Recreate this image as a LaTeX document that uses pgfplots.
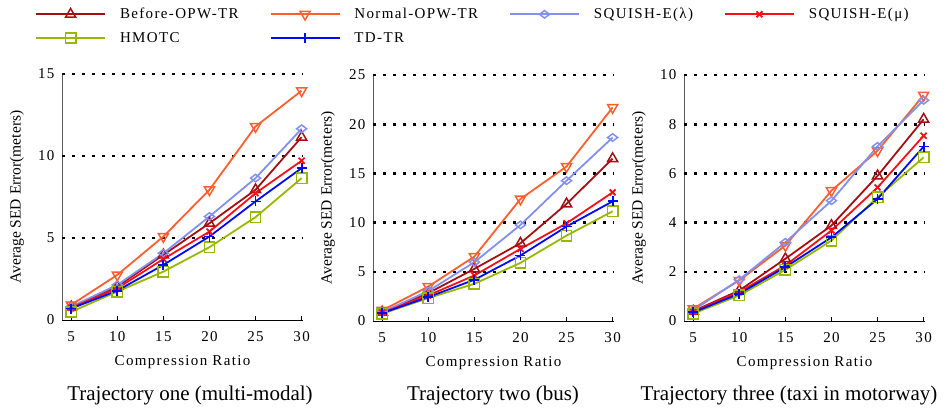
\documentclass[border=0pt]{standalone}
\usepackage{fontspec}
\setmainfont{Liberation Serif}
\newfontfamily\lsfont[LetterSpace=9]{Liberation Serif}
\usepackage{pgfplots}
\pgfplotsset{compat=1.18}

\definecolor{cBefore}{RGB}{165,15,20}
\definecolor{cNormal}{RGB}{255,95,45}
\definecolor{cSqL}{RGB}{130,145,240}
\definecolor{cSqM}{RGB}{250,15,20}
\definecolor{cHM}{RGB}{150,185,0}
\definecolor{cTD}{RGB}{0,10,250}

\pgfplotsset{
  panel/.style={
    scale only axis, width=241pt, height=246pt,
    xmin=4, xmax=30.15, xtick={5,10,15,20,25,30},
    axis x line*=bottom, axis y line*=left,
    axis line style={-, line width=0.8pt},
    x axis line style={black},
    y axis line style={black!65},
    tick align=inside, major tick length=4pt,
    xtick style={black, line width=0.7pt},
    ytick style={draw=none},
    /pgf/number format/assume math mode=true,
    ticklabel style={font=\lsfont\fontsize{15}{18}\selectfont},
    xticklabel style={yshift=-8pt},
    yticklabel style={xshift=-4pt},
    every axis y label/.style={at={(axis description cs:-0.187,0.5)}, rotate=90, anchor=center, font=\fontsize{15.5}{18}\selectfont},
    every axis x label/.style={at={(axis description cs:0.5,0)}, anchor=center, yshift=-42pt, font=\lsfont\fontsize{15}{18}\selectfont},
    ylabel={Average SED Error(meters)},
    xlabel={Compression Ratio},
    extra y tick labels={},
    extra y tick style={grid=major, ytick style={draw=none}},
    major grid style={black, line width=2.6pt, dash pattern=on 2.6pt off 7.4pt},
    every axis plot/.append style={line width=1.8pt},
    clip=false,
  },
  sBefore/.style={color=cBefore, mark=triangle, mark size=5.8pt, mark options={solid, line width=1.5pt, fill=white}},
  sNormal/.style={color=cNormal, mark=triangle, mark size=5.8pt, mark options={solid, rotate=180, line width=1.5pt, fill=white}},
  sSqL/.style={color=cSqL, mark=diamond, mark size=5pt, mark options={solid, rotate=90, line width=1.5pt, fill=white}},
  sSqM/.style={color=cSqM, mark=x, mark size=4.2pt, mark options={solid, line width=1.8pt}},
  sHM/.style={color=cHM, mark=square, mark size=5.2pt, mark options={solid, line width=1.5pt, fill=white}},
  sTD/.style={color=cTD, mark=+, mark size=5pt, mark options={solid, line width=1.8pt}},
}

\begin{document}
\begin{tikzpicture}
\path[use as bounding box] (0pt,0pt) rectangle (944pt,413pt);

% Panel 1
\begin{axis}[panel, at={(62pt,93pt)}, anchor=south west,
  ymin=0, ymax=15, ytick={0,5,10,15}, extra y ticks={5,10,15},
  legend columns=4, legend cell align=left,
  legend image code/.code={\draw[mark repeat=2, mark phase=2] plot coordinates {(0pt,0pt)(34.5pt,0pt)(69pt,0pt)};},
  legend style={at={(axis description cs:-0.112,1.268)}, anchor=north west, draw=none, fill=none,
    inner sep=0pt, font=\lsfont\fontsize{15}{18}\selectfont, row sep=12pt,
    nodes={inner sep=0pt},
    /tikz/every odd column/.append style={column sep=14pt},
    /tikz/every even column/.append style={column sep=31pt}},
]
\addplot[sBefore] coordinates {(5,0.80)(10,2.04)(15,3.97)(20,5.90)(25,7.94)(30,11.15)};
\addlegendentry{Before-OPW-TR}
\addplot[sNormal] coordinates {(5,0.92)(10,2.75)(15,5.09)(20,7.94)(25,11.80)(30,13.98)};
\addlegendentry{Normal-OPW-TR}
\addplot[sSqL] coordinates {(5,0.81)(10,2.14)(15,4.07)(20,6.31)(25,8.65)(30,11.66)};
\addlegendentry{SQUISH-E(λ)}
\addplot[sSqM] coordinates {(5,0.75)(10,1.93)(15,3.72)(20,5.39)(25,7.73)(30,9.71)};
\addlegendentry{SQUISH-E(μ)}
\addplot[sHM] coordinates {(5,0.50)(10,1.73)(15,2.95)(20,4.44)(25,6.27)(30,8.65)};
\addlegendentry{HMOTC}
\addplot[sTD] coordinates {(5,0.70)(10,1.79)(15,3.36)(20,5.09)(25,7.23)(30,9.26)};
\addlegendentry{TD-TR}
\end{axis}

% Panel 2
\begin{axis}[panel, at={(373pt,92pt)}, anchor=south west,
  ymin=0, ymax=25, ytick={0,5,10,15,20,25}, extra y ticks={5,10,15,20,25}]
\addplot[sBefore] coordinates {(5,0.90)(10,2.84)(15,5.30)(20,7.90)(25,11.90)(30,16.50)};
\addplot[sNormal] coordinates {(5,1.08)(10,3.50)(15,6.55)(20,12.40)(25,15.70)(30,21.70)};
\addplot[sSqL] coordinates {(5,0.90)(10,3.04)(15,5.98)(20,9.76)(25,14.26)(30,18.65)};
\addplot[sSqM] coordinates {(5,0.85)(10,2.60)(15,4.63)(20,7.33)(25,9.93)(30,13.07)};
\addplot[sHM] coordinates {(5,0.74)(10,2.33)(15,3.78)(20,5.91)(25,8.68)(30,11.15)};
\addplot[sTD] coordinates {(5,0.80)(10,2.43)(15,4.19)(20,6.66)(25,9.60)(30,12.16)};
\end{axis}

% Panel 3
\begin{axis}[panel, at={(684pt,92pt)}, anchor=south west,
  ymin=0, ymax=10, ytick={0,2,4,6,8,10}, extra y ticks={2,4,6,8,10}]
\addplot[sBefore] coordinates {(5,0.40)(10,1.24)(15,2.53)(20,3.88)(25,5.90)(30,8.20)};
\addplot[sNormal] coordinates {(5,0.50)(10,1.65)(15,3.07)(20,5.30)(25,6.92)(30,9.18)};
\addplot[sSqL] coordinates {(5,0.43)(10,1.68)(15,3.20)(20,4.89)(25,7.10)(30,8.97)};
\addplot[sSqM] coordinates {(5,0.38)(10,1.18)(15,2.26)(20,3.68)(25,5.43)(30,7.53)};
\addplot[sHM] coordinates {(5,0.30)(10,1.04)(15,2.08)(20,3.27)(25,5.03)(30,6.65)};
\addplot[sTD] coordinates {(5,0.35)(10,1.11)(15,2.19)(20,3.40)(25,4.96)(30,7.09)};
\end{axis}

\node[font=\fontsize{21}{24}\selectfont] at (190pt,18pt) {Trajectory one (multi-modal)};
\node[font=\fontsize{21}{24}\selectfont] at (493pt,18pt) {Trajectory two (bus)};
\node[font=\fontsize{21}{24}\selectfont] at (789pt,18pt) {Trajectory three (taxi in motorway)};
\end{tikzpicture}
\end{document}
